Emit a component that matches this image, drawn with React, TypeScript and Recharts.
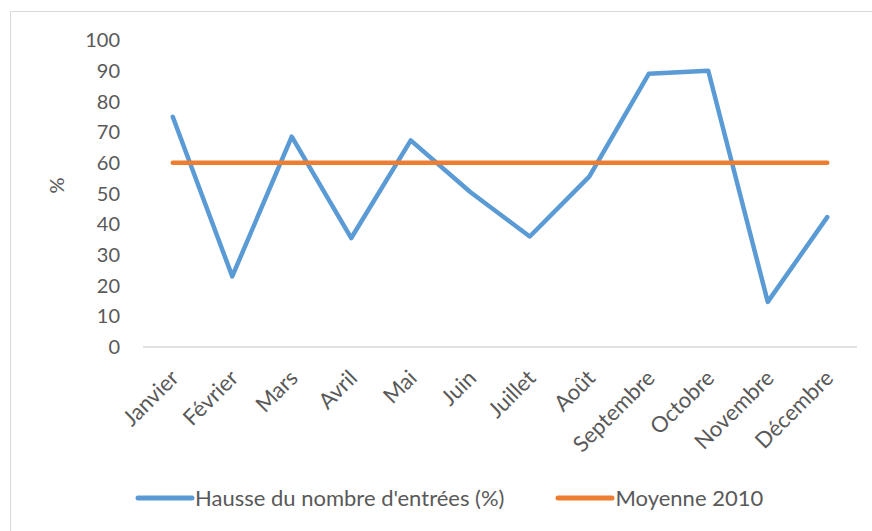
import React from "react";
import { Legend, Line, LineChart, XAxis, YAxis } from "recharts";

const months = [
  "Janvier",
  "Février",
  "Mars",
  "Avril",
  "Mai",
  "Juin",
  "Juillet",
  "Août",
  "Septembre",
  "Octobre",
  "Novembre",
  "Décembre",
];

const hausse = [75, 23, 68.5, 35.5, 67.3, 50.5, 36, 55.5, 89, 90, 14.7, 42.3];
const moyenne = [60, 60, 60, 60, 60, 60, 60, 60, 60, 60, 60, 60];
const yTicks = [0, 10, 20, 30, 40, 50, 60, 70, 80, 90, 100];

const seriesNames = {
  hausse: "Hausse du nombre d'entrées (%)",
  moyenne: "Moyenne 2010",
};

const data = months.map((m, i) => ({
  month: m,
  hausse: hausse[i],
  moyenne: moyenne[i],
}));

const FONT = "Lato, 'Open Sans', sans-serif";
const TEXT = "#595959";

function MonthTick(props: any) {
  const { x, y, payload } = props;
  return (
    <g transform={`translate(${x + 2},${y + 19}) rotate(-45)`}>
      <text
        x={0}
        y={0}
        dy="0.35em"
        textAnchor="end"
        fill={TEXT}
        fontSize={22}
        fontFamily={FONT}
      >
        {payload.value}
      </text>
    </g>
  );
}

function LegendContent(props: any) {
  const { payload } = props;
  return (
    <div style={{ display: "flex", alignItems: "center", fontFamily: FONT, fontSize: 22, color: TEXT, whiteSpace: "nowrap" }}>
      {(payload || []).map((p: any, i: number) => (
        <div key={i} style={{ display: "flex", alignItems: "center", marginRight: i === 0 ? 51 : 0 }}>
          <svg width={60} height={8} style={{ marginRight: 0 }}>
            <line x1={3} y1={4} x2={57} y2={4} stroke={p.color} strokeWidth={5} strokeLinecap="round" />
          </svg>
          <span>{p.value}</span>
        </div>
      ))}
    </div>
  );
}

export default function App() {
  return (
    <div
      style={{
        position: "fixed",
        left: 0,
        top: 0,
        width: 872,
        height: 531,
        overflow: "hidden",
        background: "#fff",
      }}
    >
      <div
        style={{
          position: "absolute",
          left: 10,
          top: 11,
          width: 900,
          height: 560,
          border: "1.5px solid #d9d9d9",
          boxSizing: "border-box",
        }}
      />
      <div style={{ position: "absolute", left: 0, top: 0 }}>
        <LineChart
          width={872}
          height={531}
          data={data}
          margin={{ top: 40, right: 15, bottom: 84, left: 0 }}
        >
          <XAxis
            dataKey="month"
            interval={0}
            height={100}
            padding={{ left: 29.75, right: 29.75 }}
            tickLine={false}
            axisLine={{ stroke: "#d9d9d9", strokeWidth: 1.5 }}
            tick={<MonthTick />}
          />
          <YAxis
            width={143}
            domain={[0, 100]}
            ticks={yTicks}
            interval={0}
            tickLine={false}
            axisLine={false}
            tickSize={0}
            tickMargin={23}
            tick={{ fill: TEXT, fontSize: 20, fontFamily: FONT }}
            label={{
              value: "%",
              angle: -90,
              position: "insideLeft",
              dx: 52,
              fill: TEXT,
              fontSize: 20,
              fontFamily: FONT,
            }}
          />
          <Legend
            layout="horizontal"
            verticalAlign="middle"
            align="center"
            wrapperStyle={{ position: "absolute", top: 484, left: 135, width: "auto" }}
            content={<LegendContent />}
          />
          <Line
            type="linear"
            dataKey="hausse"
            name={seriesNames.hausse}
            stroke="#5b9bd5"
            strokeWidth={4.5}
            strokeLinecap="round"
            strokeLinejoin="round"
            dot={false}
            activeDot={false}
            isAnimationActive={false}
          />
          <Line
            type="linear"
            dataKey="moyenne"
            name={seriesNames.moyenne}
            stroke="#ed7d31"
            strokeWidth={4.5}
            strokeLinecap="round"
            strokeLinejoin="round"
            dot={false}
            activeDot={false}
            isAnimationActive={false}
          />
        </LineChart>
      </div>
    </div>
  );
}
